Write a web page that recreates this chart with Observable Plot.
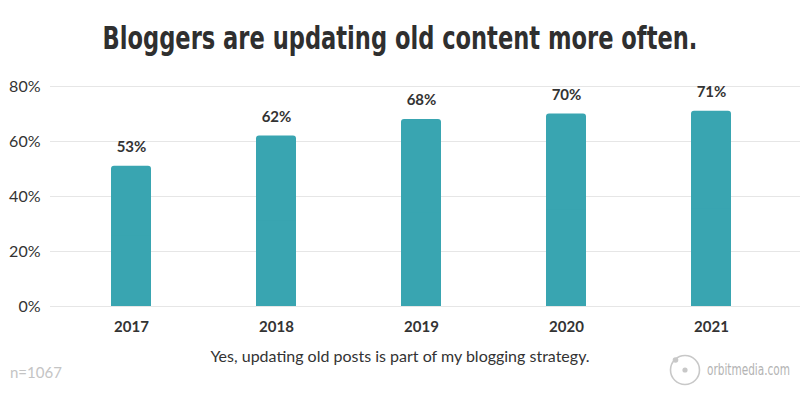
<!DOCTYPE html>
<html><head><meta charset="utf-8">
<script src="https://cdn.jsdelivr.net/npm/d3@7"></script>
<script src="https://cdn.jsdelivr.net/npm/@observablehq/plot@0.6"></script>
<style>
body{margin:0;background:#fff;}
#wrap{position:relative;width:800px;height:400px;overflow:hidden;font-family:Lato,"Open Sans",sans-serif;color:#333;}
#title{position:absolute;top:0;left:0;}
#chart{position:absolute;top:70px;left:0;}
#caption{position:absolute;top:346px;left:0;width:800px;text-align:center;font-size:16px;line-height:20px;color:#333;}
#n{position:absolute;left:10px;top:362px;font-size:15px;line-height:20px;color:#c4c4c4;}
#logo{position:absolute;left:660px;top:345px;}
</style></head>
<body><div id="wrap">
<svg id="title" width="800" height="70"><text id="ttext" x="400" y="49" text-anchor="middle" font-family="DejaVu Sans Condensed, DejaVu Sans" font-stretch="condensed" font-weight="bold" font-size="32" fill="#2f2f2f">Bloggers are updating old content more often.</text></svg>
<div id="chart"></div>
<div id="caption">Yes, updating old posts is part of my blogging strategy.</div>
<div id="n">n=1067</div>
<svg id="logo" width="140" height="50">
  <circle cx="25" cy="25" r="14.5" fill="none" stroke="#c8c8c8" stroke-width="1.6"/>
  <circle cx="25" cy="25" r="2.6" fill="#c8c8c8"/>
  <circle cx="15.5" cy="15" r="2.8" fill="#c8c8c8"/>
  <text id="ltext" x="47" y="30.5" font-family="DejaVu Sans Condensed, DejaVu Sans" font-stretch="condensed" font-size="15" fill="#b3b3b3">orbitmedia.com</text>
</svg>
</div>
<script>
const years = ["2017", "2018", "2019", "2020", "2021"];
const shares = [51, 62, 68, 70, 71];
const labels = ["53%", "62%", "68%", "70%", "71%"];
const yTicks = [0, 20, 40, 60, 80];

const data = years.map((y, i) => ({year: y, share: shares[i], label: labels[i]}));
const teal = "#39a5b1";

// squeeze a text horizontally (about its anchor) so it spans the target width
function fitWidth(id, target, cx) {
  const t = document.getElementById(id);
  const w = t.getComputedTextLength();
  const sx = target / w;
  t.setAttribute("transform", `translate(${cx},0) scale(${sx.toFixed(4)},1) translate(${-cx},0)`);
}
fitWidth("ttext", 595, 400);
fitWidth("ltext", 83, 47);

const chart = Plot.plot({
  width: 800,
  height: 270,
  marginTop: 16,
  marginBottom: 34,
  marginLeft: 50,
  marginRight: 0,
  style: {fontFamily: "Lato, 'Open Sans', sans-serif", color: "#333", background: "transparent"},
  x: {domain: years, paddingInner: 0.725, paddingOuter: 0.3625, insetLeft: 7, insetRight: 15, label: null},
  y: {domain: [0, 80], label: null},
  marks: [
    Plot.ruleY(yTicks, {stroke: "#e6e6e6", strokeWidth: 1}),
    Plot.barY(data, {x: "year", y: "share", fill: teal, rx: 3}),
    Plot.barY(data, {x: "year", y1: 0, y2: d => d.share / 2, fill: teal}),
    Plot.text(data, {x: "year", y: "share", text: "label", dy: -19, fontWeight: "bold", fontSize: 15, fill: "#333"}),
    Plot.axisY(yTicks, {tickSize: 0, tickPadding: 10, tickFormat: d => d + "%", fontSize: 16, fill: "#333", label: null}),
    Plot.axisX({tickSize: 0, tickPadding: 15, fontSize: 15, fontWeight: "bold", fill: "#333", label: null})
  ]
});
document.getElementById("chart").appendChild(chart);
</script>
</body></html>
